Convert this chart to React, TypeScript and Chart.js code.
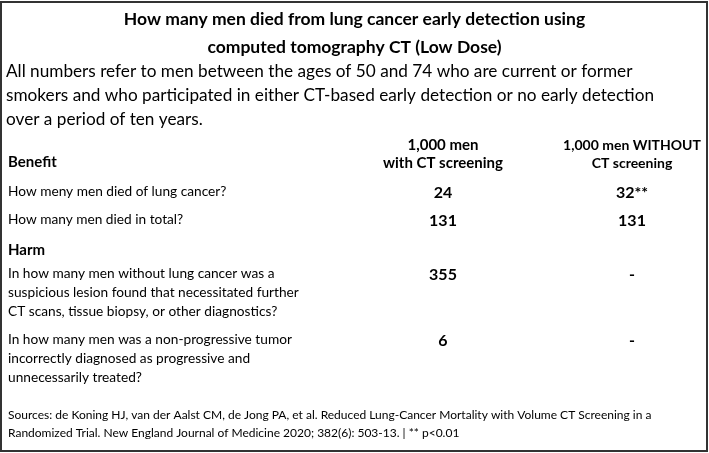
import React, { useEffect, useRef } from "react";
import { Chart, registerables } from "chart.js";

Chart.register(...registerables);

const titleLines = [
  "How many men died from lung cancer early detection using",
  "computed tomography CT (Low Dose)",
];
const introLines = [
  "All numbers refer to men between the ages of 50 and 74 who are current or former",
  "smokers and who participated in either CT-based early detection or no early detection",
  "over a period of ten years.",
];
const columnHeaders = [
  ["1,000 men", "with CT screening"],
  ["1,000 men WITHOUT", "CT screening"],
];
const sections = ["Benefit", "Harm"];
const benefitQuestions = [
  ["How meny men died of lung cancer?"],
  ["How many men died in total?"],
];
const harmQuestions = [
  [
    "In how many men without lung cancer was a",
    "suspicious lesion found that necessitated further",
    "CT scans, tissue biopsy, or other diagnostics?",
  ],
  [
    "In how many men was a non-progressive tumor",
    "incorrectly diagnosed as progressive and",
    "unnecessarily treated?",
  ],
];
const withCT = ["24", "131", "355", "6"];
const withoutCT = ["32**", "131", "-", "-"];
const footerLines = [
  "Sources: de Koning HJ, van der Aalst CM, de Jong PA, et al. Reduced Lung-Cancer Mortality with Volume CT Screening in a",
  "Randomized Trial. New England Journal of Medicine 2020; 382(6): 503-13. | ** p<0.01",
];

const FONT = "Lato, 'Open Sans', sans-serif";

const tablePlugin = {
  id: "tablePlugin",
  beforeDraw(chart: any) {
    const ctx = chart.ctx;
    ctx.save();
    ctx.fillStyle = "#ffffff";
    ctx.fillRect(0, 0, chart.width, chart.height);
    ctx.strokeStyle = "#333333";
    ctx.lineWidth = 2;
    ctx.strokeRect(1, 2, chart.width - 3, chart.height - 4);
    ctx.restore();
  },
  afterDraw(chart: any) {
    const ctx = chart.ctx;
    ctx.save();
    ctx.fillStyle = "#000000";
    ctx.textBaseline = "middle";
    const leftX = 8;
    const colX = [443, 632];
    const headerSizes = [15, 14];
    const bold = (s: number) => `bold ${s}px ${FONT}`;
    const reg = (s: number) => `${s}px ${FONT}`;

    // column headers
    ctx.textAlign = "center";
    columnHeaders.forEach((lines, c) => {
      ctx.font = bold(headerSizes[c]);
      lines.forEach((l, i) => ctx.fillText(l, colX[c], 145 + i * 18));
    });

    // sections
    ctx.textAlign = "left";
    ctx.font = bold(15);
    ctx.fillText(sections[0], leftX, 162);
    ctx.fillText(sections[1], leftX, 250);

    const rowTops = [192, 220, 274, 340];
    const questions = [...benefitQuestions, ...harmQuestions];
    questions.forEach((lines, r) => {
      ctx.font = reg(13.7);
      ctx.textAlign = "left";
      lines.forEach((l, i) => ctx.fillText(l, leftX, rowTops[r] + i * 19));
      ctx.font = bold(16);
      ctx.textAlign = "center";
      ctx.fillText(withCT[r], colX[0], rowTops[r] + 1);
      ctx.fillText(withoutCT[r], colX[1], rowTops[r] + 1);
    });

    ctx.font = reg(12);
    ctx.textAlign = "left";
    footerLines.forEach((l, i) => ctx.fillText(l, leftX, 415 + i * 18));
    ctx.restore();
  },
};

export default function App() {
  const ref = useRef<HTMLCanvasElement | null>(null);
  useEffect(() => {
    document.body.style.margin = "0";
    const chart = new Chart(ref.current as HTMLCanvasElement, {
      type: "bar",
      data: { labels: [], datasets: [] },
      options: {
        animation: false,
        responsive: false,
        layout: { padding: { left: 6, right: 6, top: 0, bottom: 0 } },
        scales: { x: { display: false }, y: { display: false } },
        plugins: {
          legend: { display: false },
          tooltip: { enabled: false },
          title: {
            display: true,
            text: titleLines,
            color: "#000",
            font: { family: FONT, size: 17.5, weight: "bold", lineHeight: 1.6 },
            padding: { top: 5, bottom: -2 },
          },
          subtitle: {
            display: true,
            text: introLines,
            align: "start",
            color: "#000",
            font: { family: FONT, size: 17.2, lineHeight: 1.3953 },
            padding: { top: 0, bottom: 0 },
          },
        },
      },
      plugins: [tablePlugin],
    });
    return () => chart.destroy();
  }, []);
  return (
    <div style={{ width: 709, height: 453 }}>
      <canvas ref={ref} width={709} height={453} />
    </div>
  );
}
